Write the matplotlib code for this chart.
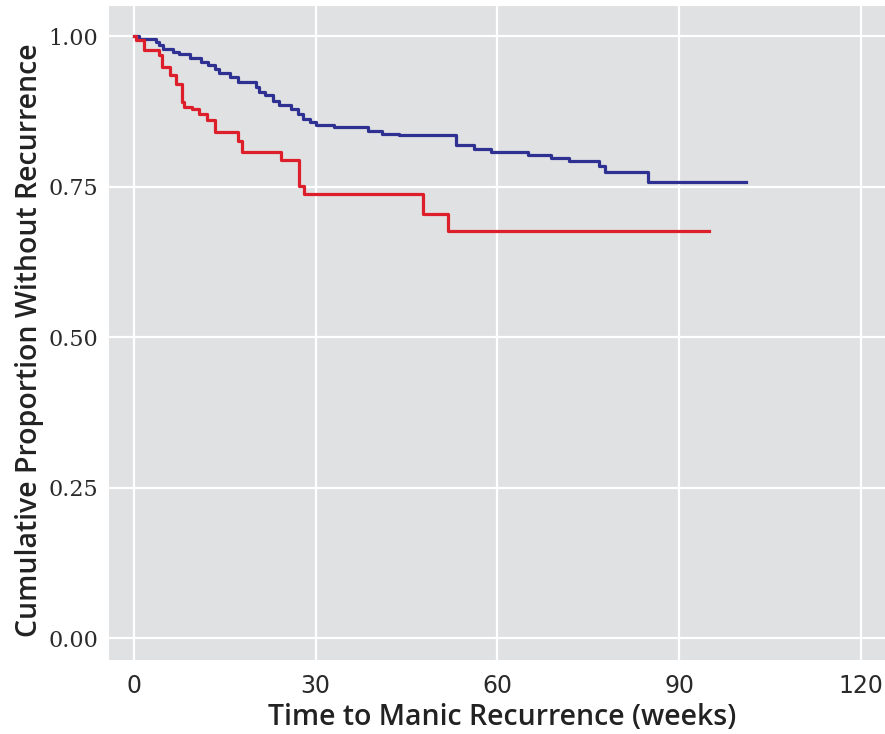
import matplotlib
matplotlib.use("Agg")
import matplotlib.pyplot as plt

# Data
blue_weeks = [0, 0.9, 3.6, 4.2, 4.8, 6.4, 7.5, 9.2, 11.1, 12.2, 13.3, 14.1, 15.8, 17.2,
              20.2, 20.7, 21.6, 22.9, 24.0, 25.9, 27.1, 27.9, 29.0, 30.1, 33.1, 38.6,
              41.0, 43.8, 53.2, 56.1, 59.0, 65.0, 68.8, 71.9, 76.7, 77.8, 84.8, 101.0]
blue_vals = [1.0, 0.996, 0.990, 0.985, 0.979, 0.974, 0.971, 0.963, 0.957, 0.952, 0.946,
             0.938, 0.932, 0.924, 0.915, 0.907, 0.902, 0.893, 0.885, 0.879, 0.871, 0.863,
             0.857, 0.853, 0.849, 0.843, 0.838, 0.835, 0.819, 0.812, 0.807, 0.803, 0.797,
             0.793, 0.785, 0.775, 0.758, 0.758]

red_weeks = [0, 0.3, 1.6, 4.1, 4.6, 5.9, 6.9, 8.0, 8.2, 9.5, 10.8, 12.0, 13.4, 17.2,
             17.9, 24.2, 27.2, 28.0, 47.7, 51.8, 95.0]
red_vals = [1.0, 0.993, 0.977, 0.968, 0.949, 0.935, 0.921, 0.890, 0.882, 0.879, 0.871,
            0.861, 0.840, 0.825, 0.807, 0.794, 0.751, 0.738, 0.705, 0.676, 0.676]

x_ticks = [0, 30, 60, 90, 120]
y_ticks = [0.00, 0.25, 0.50, 0.75, 1.00]
y_tick_labels = ["0.00", "0.25", "0.50", "0.75", "1.00"]

x_label = "Time to Manic Recurrence (weeks)"
y_label = "Cumulative Proportion Without Recurrence"

fig = plt.figure(figsize=(8.85, 7.34), dpi=100)
ax = fig.add_axes([109 / 885, 74 / 734, (885 - 109) / 885, (660 - 6) / 734])
ax.set_facecolor("#e0e1e3")
for s in ax.spines.values():
    s.set_visible(False)

ax.set_xlim(-4.13, 124.0)
ax.set_ylim(-0.036, 1.050)
ax.set_xticks(x_ticks)
ax.set_yticks(y_ticks)
ax.set_yticklabels(y_tick_labels)
ax.grid(True, color="white", linewidth=1.6)
ax.set_axisbelow(True)
ax.tick_params(length=0)
ax.tick_params(axis="x", pad=10)
ax.tick_params(axis="y", pad=8)

for lab in ax.get_xticklabels():
    lab.set_fontfamily(["Liberation Sans Narrow", "DejaVu Sans"])
    lab.set_fontsize(17)
    lab.set_color("#2a2a2a")
for lab in ax.get_yticklabels():
    lab.set_fontfamily(["DejaVu Serif"])
    lab.set_fontsize(16)
    lab.set_color("#2a2a2a")

ax.step(blue_weeks, blue_vals, where="post", color="#2e3192", linewidth=2.3, zorder=3)
ax.step(red_weeks, red_vals, where="post", color="#dd1f2b", linewidth=2.3, zorder=3)

ax.set_xlabel(x_label, fontfamily=["Open Sans", "DejaVu Sans"], fontweight="semibold",
              fontsize=20.5, color="#222222", va="center", ha="center")
ax.xaxis.set_label_coords(0.506, -0.088)
ax.set_ylabel(y_label, fontfamily=["Open Sans", "DejaVu Sans"], fontweight="semibold",
              fontsize=20.5, color="#222222", va="center", ha="center")
ax.yaxis.set_label_coords(-0.102, 0.489)

fig.savefig("out.png", dpi=100)
